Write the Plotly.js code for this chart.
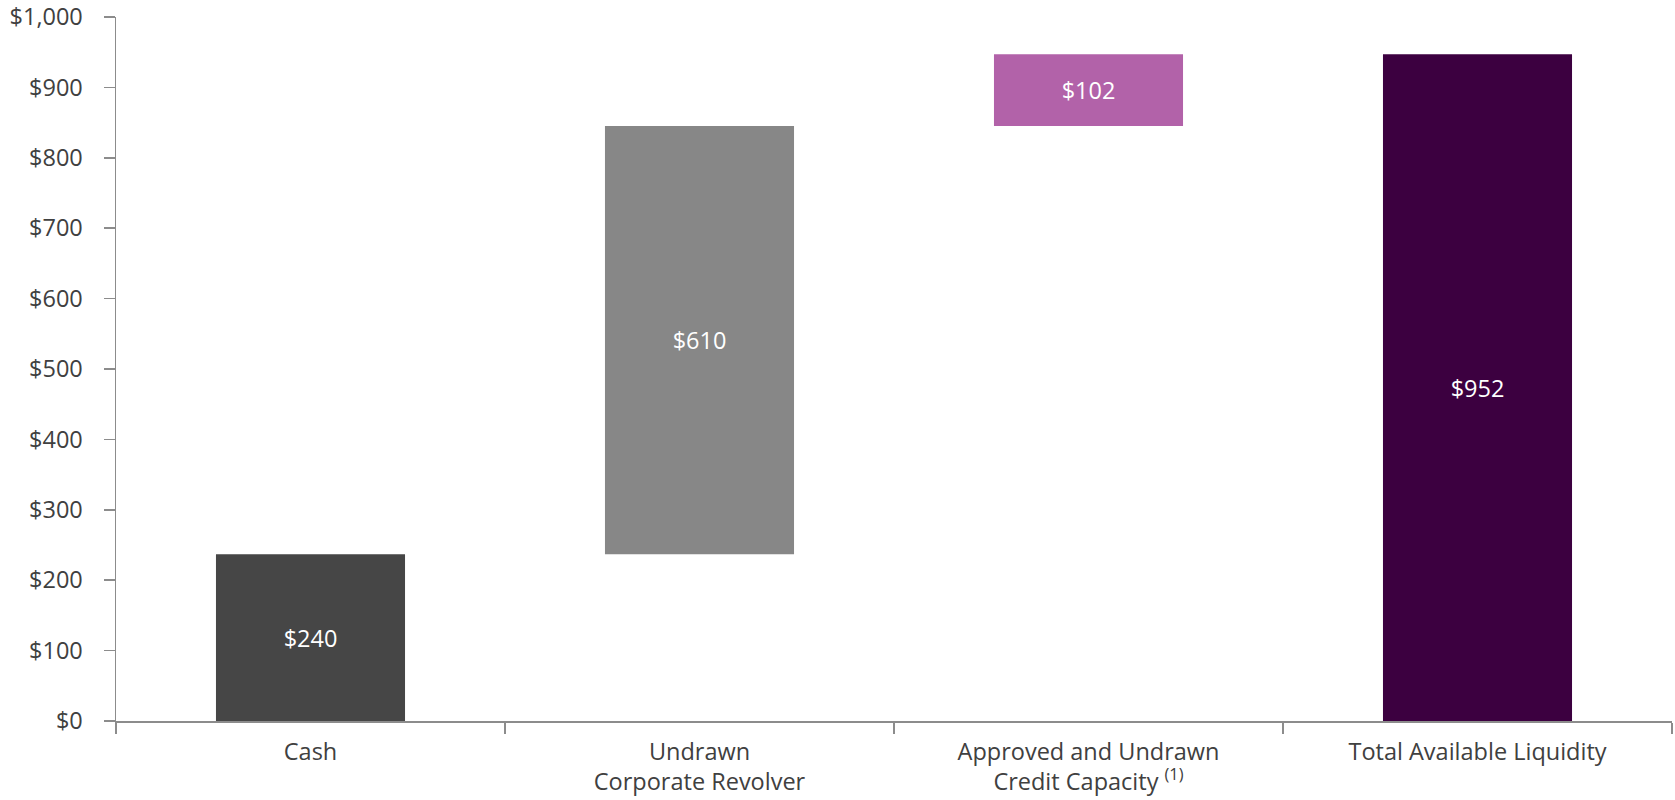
<!DOCTYPE html>
<html>
<head>
<meta charset="utf-8">
<script src="https://cdn.plot.ly/plotly-3.0.1.min.js"></script>
<style>html,body{margin:0;padding:0;background:#fff;}#chart{width:1675px;height:800px;}</style>
</head>
<body>
<div id="chart"></div>
<script>
const categories = ["Cash", "Undrawn<br>Corporate Revolver", "Approved and Undrawn<br>Credit Capacity <sup>(1)</sup>", "Total Available Liquidity"];
// bar heights
const increments = [237, 608, 102];
const totalValue = 947;
// data labels as printed on the bars
const barLabels = ["$240", "$610", "$102", "$952"];
const barColors = ["#464646", "#878787", "#B262A9", "#3C0040"];
const yTickVals = [0, 100, 200, 300, 400, 500, 600, 700, 800, 900, 1000];

// build waterfall: bases from cumulative sums, total bar from zero
const bases = [];
const heights = [];
let run = 0;
increments.forEach(v => { bases.push(run); heights.push(v); run += v; });
bases.push(0);
heights.push(totalValue);

const trace = {
  type: "bar",
  x: categories,
  y: heights,
  base: bases,
  marker: { color: barColors, line: { width: 0 } },
  text: barLabels,
  textposition: "inside",
  insidetextanchor: "middle",
  textangle: 0,
  textfont: { color: "#ffffff", size: 23.5, family: "Open Sans" },
  hoverinfo: "x+y"
};

const layout = {
  width: 1675, height: 800,
  margin: { l: 116, r: 3, t: 17, b: 79 },
  paper_bgcolor: "#ffffff", plot_bgcolor: "#ffffff",
  showlegend: false,
  bargap: 0.514,
  font: { family: "Open Sans", color: "#404040", size: 23.5 },
  xaxis: {
    type: "category",
    showgrid: false, zeroline: false,
    showline: true, linecolor: "#8c8c8c", linewidth: 1.5,
    ticks: "outside", tickson: "boundaries", ticklen: 11, tickcolor: "#8c8c8c", tickwidth: 1.5,
    ticklabelstandoff: 9,
    tickfont: { size: 23.5, color: "#404040" }
  },
  yaxis: {
    range: [0, 1000],
    tickvals: yTickVals,
    ticktext: yTickVals.map(v => "$" + v.toLocaleString("en-US")),
    showgrid: false, zeroline: false,
    showline: true, linecolor: "#8c8c8c", linewidth: 1.5,
    ticks: "outside", ticklen: 11, tickcolor: "#8c8c8c", tickwidth: 1.5,
    ticklabelstandoff: 16,
    tickfont: { size: 23.5, color: "#404040" }
  }
};

Plotly.newPlot("chart", [trace], layout, { displayModeBar: false, staticPlot: true });
</script>
</body>
</html>
